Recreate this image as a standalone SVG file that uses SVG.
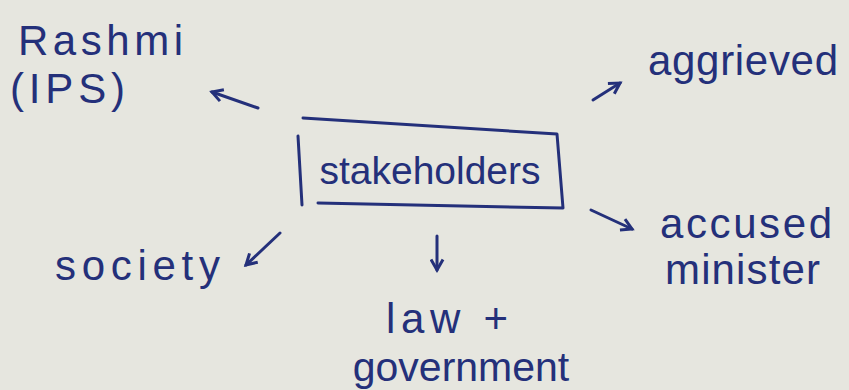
<svg xmlns="http://www.w3.org/2000/svg" width="849" height="390" viewBox="0 0 849 390">
<style>
.t{font-family:"Liberation Sans","DejaVu Sans",sans-serif;fill:#24307a;font-size:42px}
.ln{stroke:#24307a;stroke-width:3;fill:none;stroke-linecap:round;stroke-linejoin:round}
</style>
<defs>
<marker id="ah" viewBox="0 0 10 10" refX="8" refY="5" markerWidth="5" markerHeight="5" orient="auto">
<path d="M1,1 L8,5 L1,9" fill="none" stroke="#24307a" stroke-width="2"/>
</marker>
</defs>
<rect width="849" height="390" fill="#e6e6df"/>
<g id="rashmi"><text class="t" x="18" y="55" textLength="165">Rashmi</text><text class="t" x="10" y="103" textLength="115">(IPS)</text></g>
<g id="stakeholders">
<path class="ln" d="M303,118 L557,134 L563,208 L318,203 M298,136 L302,205"/>
<text class="t" x="430" y="184" style="font-size:39px" text-anchor="middle">stakeholders</text>
</g>
<g id="aggrieved"><text class="t" x="648" y="75" textLength="190">aggrieved</text></g>
<g id="accused"><text class="t" x="660" y="238" textLength="172">accused</text><text class="t" x="665" y="284" textLength="155">minister</text></g>
<g id="society"><text class="t" x="55" y="280" textLength="165">society</text></g>
<g id="law"><text class="t" x="386" y="333" textLength="122">law +</text><text class="t" x="461" y="381" style="font-size:41px" text-anchor="middle">government</text></g>
<g id="connectors">
<path class="ln" d="M258,108 L212,92" marker-end="url(#ah)"/>
<path class="ln" d="M593,100 L620,83" marker-end="url(#ah)"/>
<path class="ln" d="M591,210 L632,229" marker-end="url(#ah)"/>
<path class="ln" d="M280,233 L246,265" marker-end="url(#ah)"/>
<path class="ln" d="M437,236 L437,270" marker-end="url(#ah)"/>
</g>
</svg>
